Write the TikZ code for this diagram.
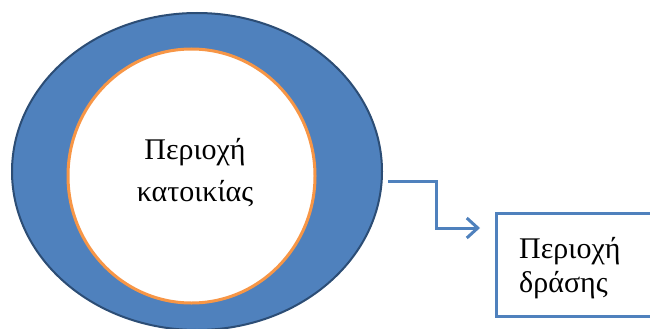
\documentclass[tikz,border=0pt]{standalone}
\usepackage{fontspec}
\setmainfont{Liberation Serif}
\usetikzlibrary{shapes.geometric,arrows.meta}
\definecolor{ringblue}{HTML}{4F81BD}
\definecolor{ringedge}{HTML}{2C4D75}
\definecolor{ringorange}{HTML}{F79646}
\tikzset{
  outerring/.style={ellipse, fill=ringblue, draw=ringedge, line width=2pt, inner sep=0pt},
  innerring/.style={ellipse, fill=white, draw=ringorange, line width=3pt, inner sep=0pt},
  label/.style={font=\fontsize{30}{42}\selectfont, align=center, inner sep=0pt, anchor=base},
  boxlabel/.style={font=\fontsize{30}{34}\selectfont, align=left, inner sep=0pt, anchor=base west},
  boxframe/.style={draw=ringblue, line width=3.2pt, fill=white, inner sep=0pt},
  link/.style={draw=ringblue, line width=3pt, -{Straight Barb[length=11pt,width=20pt,line width=3pt]}}
}
\begin{document}
\begin{tikzpicture}[x=1pt,y=-1pt]
\useasboundingbox[fill=white] (0,0) rectangle (650,329);
\node[outerring, minimum width=370pt, minimum height=317pt] (outer) at (197,171.5) {};
\node[innerring, minimum width=247pt, minimum height=254pt] (inner) at (191.5,176) {};
\node[label] (lbl) at (195,201) {Περιοχή\\κατοικίας};
\node[boxframe, minimum width=170pt, minimum height=103pt, anchor=north west] (box) at (495,212) {};
\node[boxlabel] (boxlbl) at (519,292) {Περιοχή\\δράσης};
\coordinate (start) at (388,181);
\coordinate (bend) at (436,181);
\coordinate (tip) at (480,228);
\draw[link] (start) -- (bend) |- (tip);
\end{tikzpicture}
\end{document}
